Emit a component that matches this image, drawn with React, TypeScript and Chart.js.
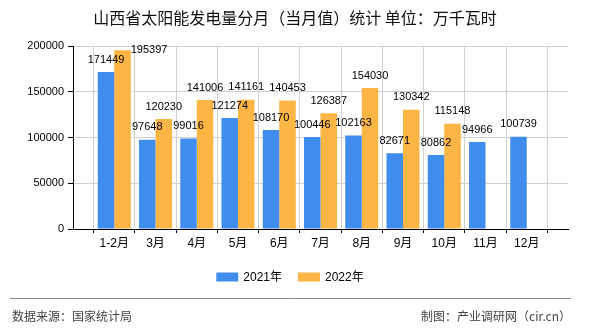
import React, { useEffect, useRef } from "react";
import { Chart, registerables } from "chart.js";

Chart.register(...registerables);

const titleText = "山西省太阳能发电量分月（当月值）统计 单位：万千瓦时";
const categories = ["1-2月", "3月", "4月", "5月", "6月", "7月", "8月", "9月", "10月", "11月", "12月"];
const seriesNames = ["2021年", "2022年"];
const values2021 = [171449, 97648, 99016, 121274, 108170, 100446, 102163, 82671, 80862, 94966, 100739];
const values2022 = [195397, 120230, 141006, 141161, 140453, 126387, 154030, 130342, 115148, null, null];
const yTicks = [0, 50000, 100000, 150000, 200000];
const seriesColors = ["#418DEE", "#FDB543"];
const sourceText = "数据来源：国家统计局";
const creditText = "制图：产业调研网（cir.cn）";

const FONT = "'Liberation Sans', 'Noto Sans CJK SC', sans-serif";
const CJK = "'Noto Sans CJK SC', 'Liberation Sans', sans-serif";

const overlayPlugin = {
  id: "overlay",
  afterDatasetsDraw(chart: any) {
    const ctx = chart.ctx;
    ctx.save();
    ctx.font = `11px ${FONT}`;
    ctx.fillStyle = "#000";
    ctx.textBaseline = "middle";
    chart.data.datasets.forEach((ds: any, di: number) => {
      const meta = chart.getDatasetMeta(di);
      meta.data.forEach((bar: any, i: number) => {
        const v = ds.data[i];
        if (v == null) return;
        const { x, y, width } = bar.getProps(["x", "y", "width"], true);
        const text = String(v);
        if (y - 18 < chart.chartArea.top) {
          ctx.textAlign = "left";
          ctx.fillText(text, x + width / 2, y);
        } else {
          ctx.textAlign = "center";
          ctx.fillText(text, x, y - 12.5);
        }
      });
    });
    ctx.restore();
  },
  afterDraw(chart: any) {
    const ctx = chart.ctx;
    ctx.save();
    // title
    ctx.font = `16px ${CJK}`;
    ctx.fillStyle = "#111";
    ctx.textAlign = "center";
    ctx.textBaseline = "middle";
    ctx.fillText(titleText, 295, 18);

    // legend
    ctx.font = `12px ${FONT}`;
    const boxW = 22, boxH = 9, gap = 5, itemGap = 16;
    const widths = seriesNames.map((n) => boxW + gap + ctx.measureText(n).width);
    const total = widths.reduce((a, b) => a + b, 0) + itemGap * (widths.length - 1);
    let lx = 290 - total / 2;
    const ly = 277;
    seriesNames.forEach((n, i) => {
      ctx.fillStyle = seriesColors[i];
      ctx.fillRect(lx, ly - boxH / 2, boxW, boxH);
      ctx.fillStyle = "#000";
      ctx.textAlign = "left";
      ctx.fillText(n, lx + boxW + gap, ly + 1);
      lx += widths[i] + itemGap;
    });

    // separator
    ctx.strokeStyle = "#888";
    ctx.lineWidth = 1;
    ctx.beginPath();
    ctx.moveTo(10, 298.5);
    ctx.lineTo(571, 298.5);
    ctx.stroke();

    // footer
    ctx.font = `12px ${CJK}`;
    ctx.fillStyle = "#444";
    ctx.textAlign = "left";
    ctx.fillText(sourceText, 12, 316);
    ctx.textAlign = "right";
    ctx.fillText(creditText, 571, 316);
    ctx.restore();
  },
};

export default function App() {
  const ref = useRef<HTMLCanvasElement | null>(null);
  useEffect(() => {
    if (!ref.current) return;
    const labels = ["", ...categories, ""];
    const chart = new Chart(ref.current, {
      type: "bar",
      data: {
        labels,
        datasets: [
          {
            label: seriesNames[0],
            data: [null, ...values2021, null],
            backgroundColor: seriesColors[0],
            categoryPercentage: 0.8,
            barPercentage: 1.0,
          },
          {
            label: seriesNames[1],
            data: [null, ...values2022, null],
            backgroundColor: seriesColors[1],
            categoryPercentage: 0.8,
            barPercentage: 1.0,
          },
        ],
      },
      options: {
        responsive: false,
        animation: false,
        events: [],
        layout: { padding: { left: 0, top: 46, right: 22, bottom: 71 } },
        plugins: {
          legend: { display: false },
          title: { display: false },
          tooltip: { enabled: false },
        },
        scales: {
          x: {
            type: "category",
            offset: false,
            afterFit(scale: any) {
              scale.height = 30;
            },
            grid: {
              color: "#d0d0d0",
              tickColor: "#000",
              tickLength: 4,
              drawOnChartArea: true,
            },
            border: { color: "#000", width: 1 },
            ticks: {
              autoSkip: false,
              maxRotation: 0,
              padding: 3,
              color: "#000",
              font: { family: FONT, size: 12 },
            },
          },
          y: {
            min: yTicks[0],
            max: yTicks[yTicks.length - 1],
            afterFit(scale: any) {
              scale.width = 73;
            },
            ticks: {
              stepSize: yTicks[1] - yTicks[0],
              padding: 4,
              color: "#000",
              font: { family: FONT, size: 11 },
              callback: (v: any) => String(v),
            },
            grid: {
              color: "#d0d0d0",
              tickColor: "#000",
              tickLength: 5,
            },
            border: { color: "#000", width: 1 },
          },
        },
      },
      plugins: [overlayPlugin],
    });
    return () => chart.destroy();
  }, []);
  return (
    <div style={{ position: "fixed", left: 0, top: 0, width: 590, height: 330, background: "#fff" }}>
      <canvas ref={ref} width={590} height={330} />
    </div>
  );
}
